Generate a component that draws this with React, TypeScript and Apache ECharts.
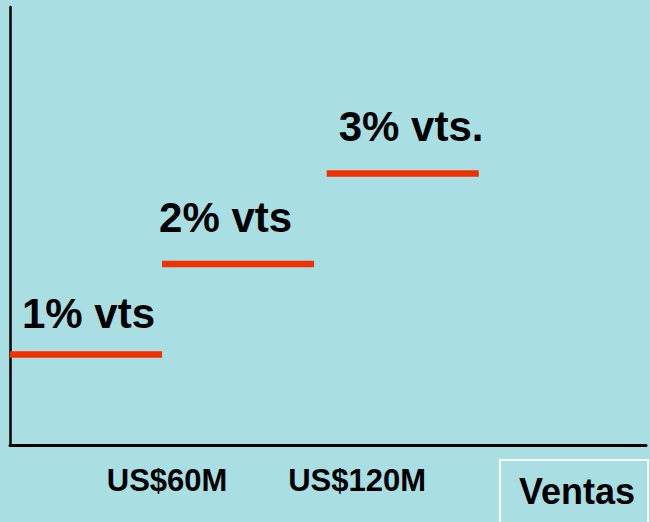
import React, { useEffect, useRef } from "react";
import * as echarts from "echarts";

// Data
const STEP_START = [0, 60, 125];
const STEP_END = [60, 120, 185];
const STEP_RATE = [1, 2, 3];
const STEP_LABELS = ["1% vts", "2% vts", "3% vts."];
const TICK_VALUES = [62, 137];
const TICK_LABELS = ["US$60M", "US$120M"];
const AXIS_NAME = "Ventas";

// Styles
const BG = "#A9DFE3";
const RED = "#F03000";
const FONT = "'Liberation Sans', Arial, Helvetica, sans-serif";
const LABEL_OFFSETS = [
  [12, -41],
  [-3, -47],
  [12, -47],
];

export default function App() {
  const ref = useRef<HTMLDivElement>(null);

  useEffect(() => {
    document.body.style.margin = "0";
    if (!ref.current) return;
    const chart = echarts.init(ref.current, undefined, { renderer: "svg" });

    const segSeries = STEP_START.map((s, i) => ({
      type: "line",
      data: [
        [s, STEP_RATE[i]],
        [STEP_END[i], STEP_RATE[i]],
      ],
      symbol: "none",
      lineStyle: { color: RED, width: 6.5, cap: "butt" },
      silent: true,
      z: 3,
    }));

    const labelSeries = {
      type: "scatter",
      symbolSize: 0,
      itemStyle: { color: "#000000" },
      silent: true,
      data: STEP_START.map((s, i) => ({
        value: [s, STEP_RATE[i]],
        label: {
          show: true,
          formatter: STEP_LABELS[i],
          position: [0, 0],
          offset: LABEL_OFFSETS[i],
          align: "left",
          verticalAlign: "middle",
          fontSize: 42,
          fontWeight: "bold",
          fontFamily: FONT,
          color: "#000000",
          textBorderWidth: 0,
          opacity: 1,
        },
      })),
      z: 4,
    };

    const tickMap: Record<number, string> = {};
    TICK_VALUES.forEach((v, i) => (tickMap[v] = TICK_LABELS[i]));

    chart.setOption({
      animation: false,
      backgroundColor: BG,
      grid: { left: 10, right: 4, top: 7, bottom: 77, containLabel: false },
      xAxis: {
        type: "value",
        min: 0,
        max: 251,
        axisLine: { show: true, lineStyle: { color: "#000", width: 3 } },
        axisTick: { show: false },
        splitLine: { show: false },
        axisLabel: {
          customValues: TICK_VALUES,
          formatter: (v: number) => tickMap[v] ?? "",
          margin: 20,
          fontSize: 31,
          fontWeight: "bold",
          fontFamily: FONT,
          color: "#000",
        },
      },
      yAxis: {
        type: "value",
        min: 0,
        max: 4.84,
        axisLine: { show: true, onZero: false, lineStyle: { color: "#000", width: 2.5 } },
        axisTick: { show: false },
        splitLine: { show: false },
        axisLabel: { show: false },
      },
      graphic: [
        {
          type: "rect",
          shape: { x: 500, y: 460, width: 148, height: 80 },
          style: { fill: "none", stroke: "#FFFFFF", lineWidth: 2 },
        },
        {
          type: "text",
          x: 519,
          y: 491,
          style: {
            text: AXIS_NAME,
            font: `bold 36px ${FONT}`,
            fill: "#000",
            textAlign: "left",
            textVerticalAlign: "middle",
          },
        },
      ],
      series: [...segSeries, labelSeries],
    });

    return () => chart.dispose();
  }, []);

  return <div ref={ref} style={{ width: 650, height: 522 }} />;
}
